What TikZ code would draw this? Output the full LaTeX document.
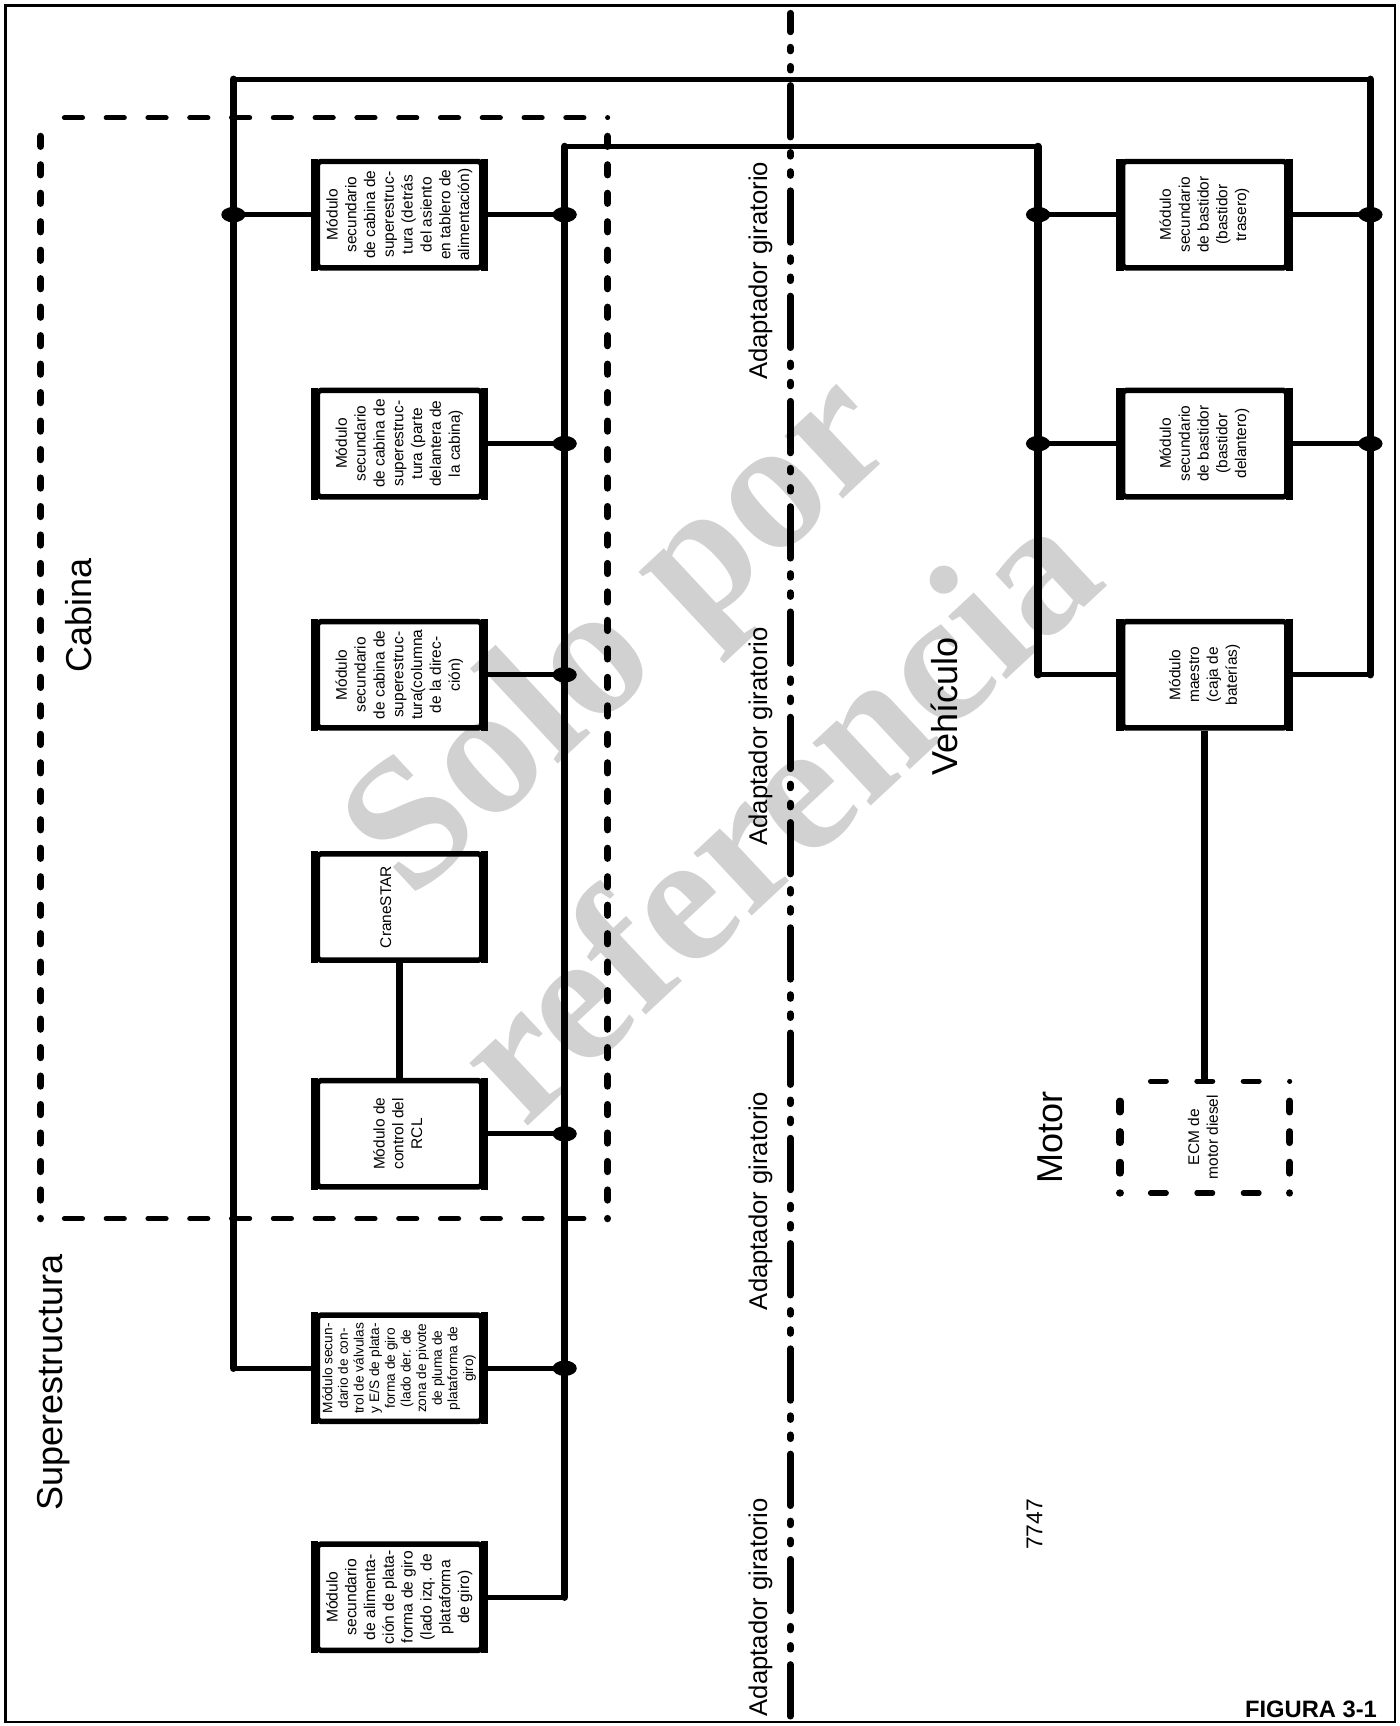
\documentclass[tikz,border=0pt]{standalone}
\usepackage{fontspec}
\setmainfont{Liberation Sans}
\newfontfamily\wmfont{Liberation Serif}
\usepackage{graphicx}
\usetikzlibrary{positioning,decorations}

\newcommand{\vtext}[1]{\rotatebox{90}{\begin{tabular}{@{}c@{}}#1\end{tabular}}}

\begin{document}
\begin{tikzpicture}[x=0.22014mm, y=-0.22014mm,
  modbox/.style={draw, line width=3.1pt, rounded corners=2pt, minimum width=93.5pt,
    minimum height=60.5pt, inner sep=0pt, font=\fontsize{8.8}{10.7}\selectfont},
  sideedge/.style={line width=4.3pt},
  hbus/.style={line width=3pt, line cap=round},
  vbus/.style={line width=4.2pt, line cap=round},
  swline/.style={line width=3.8pt, line cap=round,
    dash pattern=on 29.4pt off 8.7pt on 2.2pt off 8.7pt on 2.2pt off 8.7pt, dash phase=18.8pt},
  cabv/.style={line width=4.2pt, line cap=round, dash pattern=on 5.6pt off 10.6pt, dash expand off},
  cabh/.style={line width=2.9pt, line cap=round, dash pattern=on 10.3pt off 12pt, dash expand off},
  ecmv/.style={line width=4.2pt, line cap=round, dash pattern=on 6pt off 8.5pt, dash expand off},
  ecmh/.style={line width=2.9pt, line cap=round, dash pattern=on 9pt off 14.2pt, dash expand off},
  biglabel/.style={rotate=90, anchor=base, font=\fontsize{20.5}{24}\selectfont},
  swlabel/.style={rotate=90, anchor=base, font=\fontsize{14.6}{17}\selectfont},
  wmark/.style={rotate=43, text=black!18, font=\wmfont\bfseries\fontsize{106}{106}\selectfont}
]
  \useasboundingbox (0,0) rectangle (1271,1568);

  % Watermark
  \node[wmark] (wm1) at (568,582) {Solo por};
  \node[wmark] (wm2) at (702,735) {referencia};

  % Frame
  \draw[line width=1.2pt] (5,5) rectangle (1267,1564);

  % Swivel line
  \coordinate (swtop) at (718,12);
  \coordinate (swbot) at (718,1560);
  \draw[swline] (swtop) -- (swbot);

  % Superstructure modules
  \node[modbox] (b1) at (363,195) {\vtext{Módulo\\ secundario\\ de cabina de\\ superestruc-\\ tura (detrás\\ del asiento\\ en tablero de\\ alimentación)}};
  \node[modbox] (b2) at (363,403) {\vtext{Módulo\\ secundario\\ de cabina de\\ superestruc-\\ tura (parte\\ delantera de\\ la cabina)}};
  \node[modbox] (b3) at (363,613) {\vtext{Módulo\\ secundario\\ de cabina de\\ superestruc-\\ tura(columna\\ de la direc-\\ ción)}};
  \node[modbox] (crane) at (363,824) {\vtext{CraneSTAR}\hspace*{14pt}};
  \node[modbox] (rcl) at (363,1030) {\vtext{Módulo de\\ control del\\ RCL}};
  \node[modbox, font=\fontsize{7.8}{8.9}\selectfont] (vlv) at (363,1243) {\vtext{Módulo secun-\\ dario de con-\\ trol de válvulas\\ y E/S de plata-\\ forma de giro\\ (lado der. de\\ zona de pivote\\ de pluma de\\ plataforma de\\ giro)}};
  \node[modbox, font=\fontsize{8.9}{10.7}\selectfont] (ali) at (363,1451) {\vtext{Módulo\\ secundario\\ de alimenta-\\ ción de plata-\\ forma de giro\\ (lado izq. de\\ plataforma\\ de giro)}};

  % Carrier modules
  \node[modbox] (tra) at (1094.5,195) {\vtext{Módulo\\ secundario\\ de bastidor\\ (bastidor\\ trasero)}};
  \node[modbox] (del) at (1094.5,403) {\vtext{Módulo\\ secundario\\ de bastidor\\ (bastidor\\ delantero)}};
  \node[modbox] (mst) at (1094.5,613) {\vtext{Módulo\\ maestro\\ (caja de\\ baterías)}};
  \node[modbox, draw=none] (ecm) at (1094.5,1033) {\vtext{ECM de\\ motor diesel}};

  % Heavier side edges
  \foreach \m in {b1,b2,b3,crane,rcl,vlv,ali,tra,del,mst}
    \draw[sideedge] (\m.north west) -- (\m.south west) (\m.north east) -- (\m.south east);

  % ECM outline
  \draw[ecmh] (ecm.north west) -- (ecm.north east);
  \draw[ecmh] (ecm.south west) -- (ecm.south east);
  \draw[ecmv] (ecm.north west) -- (ecm.south west);
  \draw[ecmv] (ecm.north east) -- (ecm.south east);

  % Cabina outline
  \coordinate (cabnw) at (37,107);
  \coordinate (cabse) at (552,1107);
  \draw[cabh] (cabnw) -- (cabnw -| cabse);
  \draw[cabh] (cabnw |- cabse) -- (cabse);
  \draw[cabv] (cabnw) -- (cabnw |- cabse);
  \draw[cabv] (cabnw -| cabse) -- (cabse);

  % Buses
  \coordinate (otl) at (212,72);
  \coordinate (otr) at (1245,72);
  \coordinate (itl) at (513,133);
  \coordinate (itr) at (943,133);
  \draw[hbus] (otl) -- (otr);
  \draw[vbus] (otl) -- (otl |- vlv.west);
  \draw[hbus] (otl |- vlv.west) -- (vlv.west);
  \draw[vbus] (otr) -- (otr |- mst.east);
  \draw[hbus] (otr |- mst.east) -- (mst.east);
  \draw[hbus] (itl) -- (itr);
  \draw[vbus] (itl) -- (itl |- ali.east);
  \draw[hbus] (itl |- ali.east) -- (ali.east);
  \draw[vbus] (itr) -- (itr |- mst.west);
  \draw[hbus] (itr |- mst.west) -- (mst.west);

  % Taps with junction dots
  \draw[hbus] (b1.west) -- (b1.west -| otl);
  \fill (b1.west -| otl) ellipse [x radius=11, y radius=7];
  \foreach \m in {b1,b2,b3,rcl,vlv} {
    \draw[hbus] (\m.east) -- (\m.east -| itl);
    \fill (\m.east -| itl) ellipse [x radius=11, y radius=7];
  }
  \foreach \m in {tra,del} {
    \draw[hbus] (\m.west) -- (\m.west -| itr);
    \fill (\m.west -| itr) ellipse [x radius=11, y radius=7];
    \draw[hbus] (\m.east) -- (\m.east -| otr);
    \fill (\m.east -| otr) ellipse [x radius=11, y radius=7];
  }

  % Direct links
  \draw[vbus, line cap=butt] (crane.south) -- (rcl.north);
  \draw[vbus, line cap=butt] (mst.south) -- (ecm.north);

  % Labels
  \node[biglabel] (cabina) at (83.5,559) {Cabina};
  \node[biglabel] (superestr) at (56.5,1256) {Superestructura};
  \node[biglabel] (vehiculo) at (870,642) {Vehículo};
  \node[biglabel] (motor) at (965,1033) {Motor};
  \node[swlabel] (sw1) at (697,246) {Adaptador giratorio};
  \node[swlabel] (sw2) at (697,669) {Adaptador giratorio};
  \node[swlabel] (sw3) at (697,1091) {Adaptador giratorio};
  \node[swlabel] (sw4) at (697,1460) {Adaptador giratorio};
  \node[rotate=90, anchor=base, font=\fontsize{13}{15}\selectfont] (num) at (947,1385) {7747};
  \node[font=\bfseries\fontsize{13.5}{15}\selectfont] (fig) at (1191,1553) {FIGURA 3-1};
\end{tikzpicture}
\end{document}
